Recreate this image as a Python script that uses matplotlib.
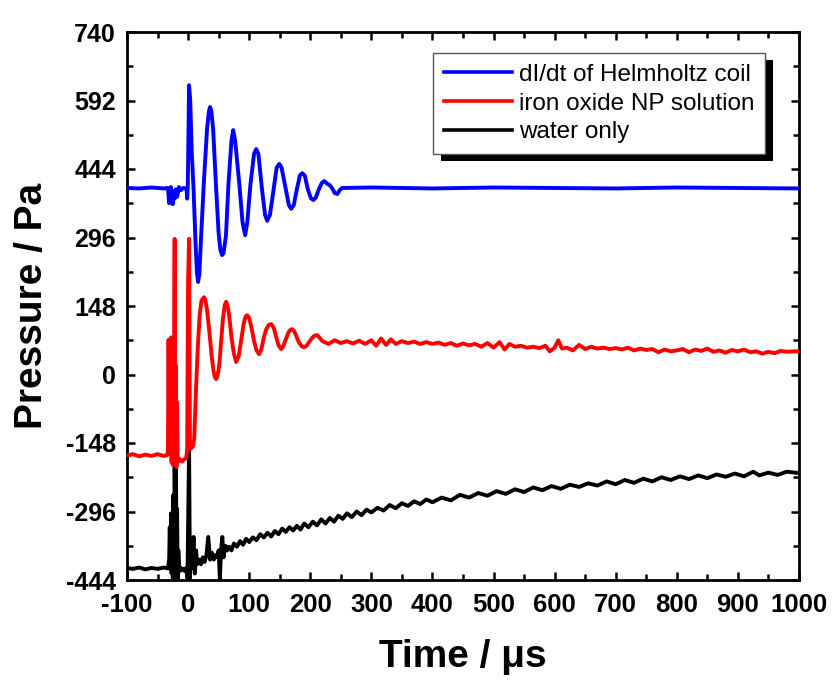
import matplotlib
matplotlib.use("Agg")
import matplotlib.pyplot as plt
from matplotlib.patches import Rectangle
from matplotlib.transforms import IdentityTransform
from matplotlib.ticker import MultipleLocator, FixedLocator
import matplotlib.font_manager as fm

# ---------------- data ----------------
blue_t = [-100, -80, -60, -40, -33, -31, -30, -29, -28, -27, -26, -25, -24, -22, -20, -18, -15, -12,
          -8, -4, -2.5, -1.5, -0.5, 1.6, 3.5, 6, 9, 12, 14.5, 16.4, 18.5, 21, 26, 31, 34, 36, 38, 41,
          46, 50, 53, 55.7, 58, 62, 66, 71, 73.8, 77, 84, 89, 93.4, 97, 102, 108, 111.5, 115, 121,
          126, 129.5, 134, 140, 145, 149.2, 153, 160, 165, 168.8, 173, 178, 183, 186.9, 191, 196,
          201, 204.9, 209, 214, 219, 223, 228, 232, 236, 240, 244.3, 248, 252, 300, 400, 500, 600,
          700, 800, 900, 1000]
blue_p = [403, 402, 404, 402, 403, 370, 401, 372, 405, 375, 398, 368, 396, 380, 400, 384, 405, 398,
          403, 402, 401, 380, 405, 625, 592, 480, 400, 290, 220, 200, 218, 290, 420, 530, 568, 578,
          570, 530, 400, 305, 268, 258, 262, 300, 410, 505, 528, 505, 410, 330, 301, 330, 410, 477,
          487, 477, 400, 345, 332, 345, 400, 447, 455, 447, 400, 366, 358, 366, 400, 430, 435, 430,
          400, 381, 377, 382, 400, 414, 418, 412, 409, 402, 392, 390, 398, 403, 404, 402, 404, 403,
          402, 404, 403, 402]

red_t = [-100, -90, -80, -70, -60, -50, -40, -34, -33, -32, -31, -30, -29, -28, -27, -26, -25,
         -23.5, -22, -21, -20, -19, -18, -17, -16, -14, -10, -6, -3, -1.5, 0, 1.6, 3, 5, 8, 10, 13,
         16, 19, 22, 26, 28, 31, 35, 39, 42, 44, 46, 48, 51, 54, 57, 60, 62.3, 64, 67, 71, 75, 78.7,
         83, 87, 91, 94, 96.7, 100, 104, 108, 112, 116.4, 120, 124, 128, 132, 136, 140, 144, 148,
         152.5, 156, 160, 164, 167, 170.5, 174, 178, 182, 186, 190, 194, 198, 203, 207, 211.5, 220,
         230, 240, 250, 260, 270, 280, 290, 300, 308, 316, 324, 332, 340, 350, 360, 370, 380, 390,
         400, 410, 420, 430, 440, 450, 460, 470, 480, 490, 500, 510, 518, 526, 535, 545, 555, 565,
         575, 585, 592, 600, 606, 612, 620, 630, 640, 650, 660, 670, 680, 690, 700, 710, 720, 730,
         740, 750, 760, 770, 780, 790, 800, 810, 820, 830, 840, 850, 860, 870, 880, 890, 900, 910,
         920, 930, 940, 950, 960, 970, 980, 990, 1000]
red_p = [-175, -172, -177, -173, -176, -172, -176, -174, -160, 75, -120, 60, -150, 80, -190, 30,
         -195, -100, 293, -150, 20, -200, -60, -190, -185, -182, -188, -183, -180, -160, 200, 293,
         -155, -160, -155, -140, -30, 60, 130, 160, 167, 162, 140, 90, 35, 5, -6, -10, -5, 20, 70,
         120, 150, 157, 152, 130, 80, 45, 27, 40, 75, 110, 125, 128, 122, 100, 72, 52, 44, 55, 80,
         98, 107, 109, 102, 82, 63, 55, 62, 76, 90, 96, 98, 93, 80, 68, 61, 59, 62, 70, 79, 84, 85,
         72, 66, 74, 68, 72, 67, 73, 66, 74, 62, 78, 64, 76, 66, 72, 68, 71, 66, 70, 66, 69, 64, 68,
         62, 67, 63, 66, 60, 68, 58, 70, 54, 66, 60, 62, 58, 60, 57, 62, 50, 58, 74, 56, 58, 52, 64,
         55, 60, 56, 58, 55, 57, 54, 58, 52, 56, 53, 55, 48, 54, 50, 52, 55, 48, 54, 51, 56, 49, 52,
         47, 53, 50, 54, 48, 50, 45, 49, 46, 51, 49, 50, 50]

black_t = [-100, -90, -80, -70, -60, -50, -40, -33, -31, -30, -29, -28, -27, -26, -25, -24, -23,
           -22, -21, -20, -19, -18, -17, -16, -14, -12, -10, -8, -5, -3, -1, 0, 1.6, 3, 4, 5, 7, 9,
           11, 13, 15, 18, 21, 24, 27, 30, 33, 36, 39, 42, 45, 48, 50, 52, 54, 56, 58, 61, 64, 67,
           71, 75, 80, 85, 90, 95, 100, 106, 112, 118, 124, 130, 136, 142, 148, 154, 160, 166, 172,
           178, 184, 190, 197, 204, 211, 218, 225, 232, 239, 246, 253, 260, 268, 276, 284, 292, 300,
           310, 320, 330, 340, 350, 360, 370, 380, 390, 400, 415, 430, 445, 460, 475, 490, 505, 520,
           535, 550, 565, 580, 595, 610, 625, 640, 655, 670, 685, 700, 715, 730, 745, 760, 775, 790,
           805, 820, 835, 850, 865, 880, 895, 910, 925, 935, 950, 965, 980, 1000]
black_p = [-418, -420, -417, -421, -418, -420, -417, -419, -400, -330, -420, -300, -430, -330, -440,
           -260, -380, -200, -300, -120, -440, -290, -442, -380, -425, -418, -422, -420, -425, -418,
           -440, -330, -157, -440, -380, -420, -400, -351, -430, -380, -410, -400, -410, -395, -405,
           -390, -351, -400, -385, -400, -390, -395, -380, -442, -380, -351, -395, -370, -380, -372,
           -380, -365, -372, -360, -368, -355, -362, -352, -358, -345, -352, -342, -350, -338, -345,
           -333, -340, -330, -337, -327, -335, -322, -330, -318, -326, -313, -322, -310, -318, -305,
           -312, -300, -308, -296, -304, -292, -298, -288, -294, -282, -289, -278, -284, -274, -280,
           -270, -276, -266, -272, -260, -266, -256, -262, -252, -258, -248, -254, -244, -250, -241,
           -247, -238, -243, -235, -240, -231, -237, -228, -234, -225, -231, -222, -228, -220, -226,
           -218, -224, -216, -221, -214, -220, -210, -218, -212, -217, -210, -213]

series_labels = ["dI/dt of Helmholtz coil", "iron oxide NP solution", "water only"]
series_colors = ["#0000ff", "#ff0000", "#000000"]

x_ticks = list(range(-100, 1001, 100))
y_ticks = [-444, -296, -148, 0, 148, 296, 444, 592, 740]

# ---------------- figure ----------------
names = {f.name for f in fm.fontManager.ttflist}
base_font = "Liberation Sans" if "Liberation Sans" in names else "DejaVu Sans"
plt.rcParams["font.family"] = [base_font, "DejaVu Sans"]
plt.rcParams["axes.unicode_minus"] = False

W, H = 835, 683
fig = plt.figure(figsize=(W / 100, H / 100), dpi=100)
L, R, T, B = 127, 799, 32, 580
ax = fig.add_axes([L / W, 1 - B / H, (R - L) / W, (B - T) / H])

lw = 2.8
ax.plot(black_t, black_p, color=series_colors[2], lw=lw, label=series_labels[2], zorder=2)
ax.plot(red_t, red_p, color=series_colors[1], lw=lw, label=series_labels[1], zorder=3)
ax.plot(blue_t, blue_p, color=series_colors[0], lw=lw, label=series_labels[0], zorder=4)

ax.set_xlim(-100, 1000)
ax.set_ylim(-444, 740)
ax.xaxis.set_major_locator(FixedLocator(x_ticks))
ax.xaxis.set_minor_locator(MultipleLocator(50))
ax.yaxis.set_major_locator(FixedLocator(y_ticks))
ax.yaxis.set_minor_locator(MultipleLocator(74))

for s in ax.spines.values():
    s.set_linewidth(2.0)
ax.tick_params(which="both", direction="in", top=True, right=True, width=1.8)
ax.tick_params(which="major", length=6)
ax.tick_params(which="minor", length=4)
ax.tick_params(axis="y", which="major", pad=8)
ax.tick_params(axis="x", which="major", pad=9)

for lab in ax.get_yticklabels():
    lab.set_fontsize(18)
    lab.set_fontweight("bold")
for lab in ax.get_xticklabels():
    lab.set_fontsize(18.5)
    lab.set_fontweight("bold")

ax.set_xlabel("Time / \u03bcs", fontsize=28, fontweight="bold", labelpad=16)
ax.set_ylabel("Pressure / Pa", fontsize=28, fontweight="bold", labelpad=11)

handles, labels = ax.get_legend_handles_labels()
order = [2, 1, 0]
leg = ax.legend([handles[i] for i in order], [labels[i] for i in order],
                loc="upper left", bbox_to_anchor=(0.455, 0.962), fontsize=17.5,
                frameon=True, fancybox=False, edgecolor="#555555", framealpha=1,
                handlelength=2.8, handletextpad=0.3, labelspacing=0.28,
                borderpad=0.45, borderaxespad=0)
leg.get_frame().set_linewidth(1.0)
for ln in leg.get_lines():
    ln.set_linewidth(2.6)

fig.canvas.draw()
bb = leg.get_window_extent()
shadow = Rectangle((bb.x0 + 8, bb.y0 - 7), bb.width, bb.height, transform=IdentityTransform(),
                   facecolor="black", edgecolor="none", zorder=4.9, clip_on=False)
ax.add_artist(shadow)

fig.savefig("out.png", dpi=100)
